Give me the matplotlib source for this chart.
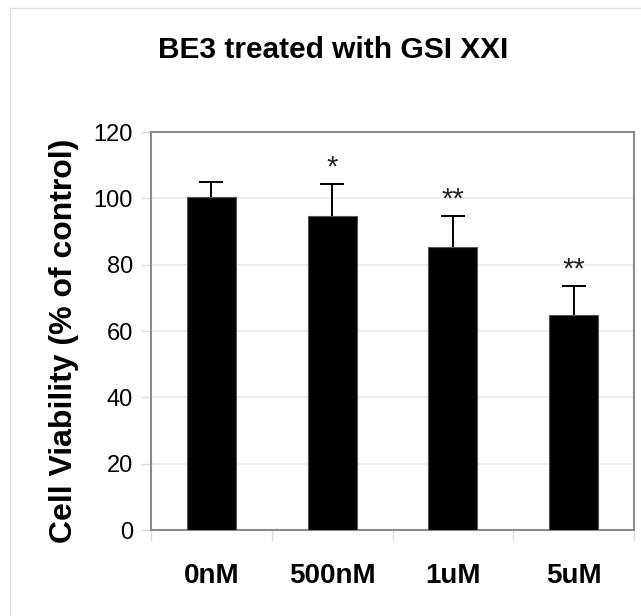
import matplotlib.pyplot as plt
from matplotlib.patches import Rectangle

plt.rcParams['font.family'] = ['Liberation Sans', 'DejaVu Sans']

# data
doses = ["0nM", "500nM", "1uM", "5uM"]
viability = [100.3, 94.8, 85.3, 64.9]
err_up = [4.5, 9.4, 9.3, 8.6]
stars = ["", "*", "**", "**"]

fig = plt.figure(figsize=(6.41, 6.16), dpi=100)
ax = fig.add_axes([0.2356, 0.1396, 0.7535, 0.6461])

x = list(range(len(doses)))
ax.bar(x, viability, width=0.405, color="black", edgecolor="#555555", linewidth=0.8, zorder=3)
eb = ax.errorbar(x, viability, yerr=[[0] * len(x), err_up], fmt="none", ecolor="black",
                 elinewidth=1.4, capsize=8.5, capthick=1.4, zorder=4)
eb[1][0].set_visible(False)  # only the upper cap

for xi, v, e, s in zip(x, viability, err_up, stars):
    if s:
        ax.text(xi, v + e + 0.8, s, ha="center", va="bottom", fontsize=21, color="#222222")

ax.set_xlim(-0.5, 3.5)
ax.set_ylim(0, 120)
ax.set_yticks(range(0, 121, 20))
ax.grid(axis="y", color="#ebebeb", linewidth=1.2, zorder=0)

ax.set_xticks(x)
ax.set_xticklabels(doses, fontsize=20, fontweight="bold")
ax.tick_params(axis="x", length=0, pad=24)
ax.set_xticks([-0.5, 0.5, 1.5, 2.5, 3.5], minor=True)
ax.tick_params(axis="x", which="minor", length=8, color="#dddddd", width=1)
ax.tick_params(axis="y", labelsize=17, length=7, color="#dddddd", width=1, pad=6)

for sp in ax.spines.values():
    sp.set_color("#8c8c8c")
    sp.set_linewidth(1.5)

fig.text(0.52, 0.919, "BE3 treated with GSI XXI", ha="center", va="center",
         fontsize=21.5, fontweight="bold")
fig.text(0.10, 0.446, "Cell Viability (% of control)", ha="center", va="center",
         rotation=90, fontsize=23, fontweight="bold")

# faint outer frame
fig.patches.append(Rectangle((10 / 641, -0.01), 1.02, 1 - 8 / 616 + 0.01, transform=fig.transFigure,
                             fill=False, edgecolor="#e3e3e3", linewidth=1))

fig.savefig("out.png", dpi=100)
